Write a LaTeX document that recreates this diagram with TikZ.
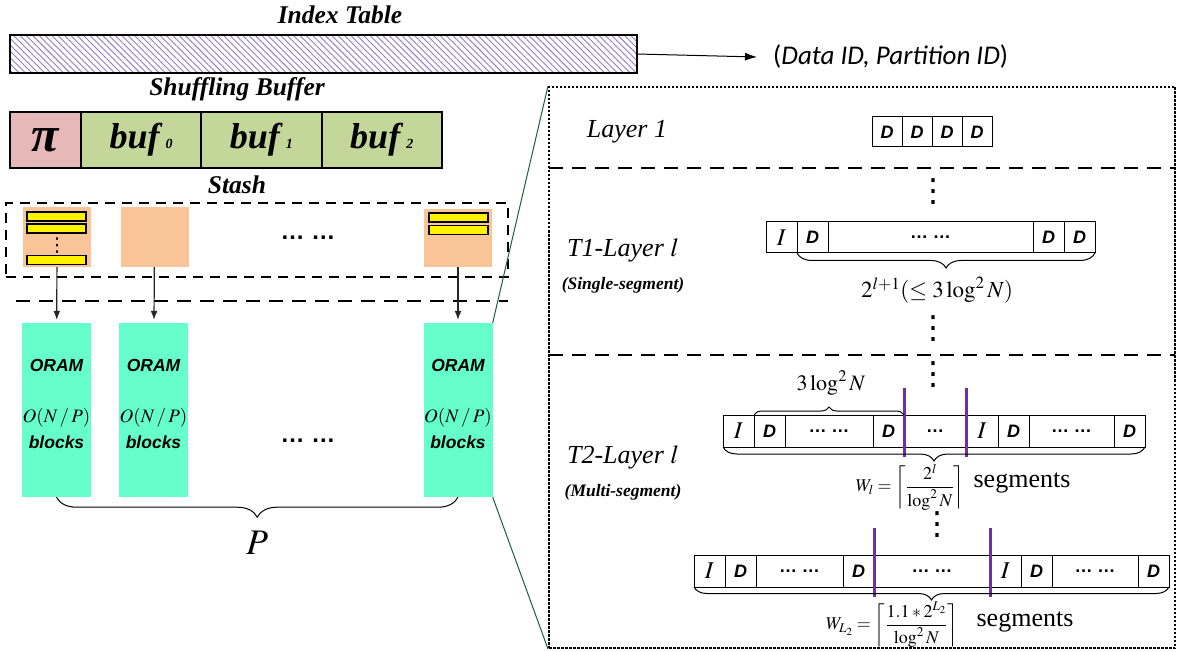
\documentclass[tikz,border=0pt]{standalone}
\usepackage{mathptmx}
\usepackage[no-math]{fontspec}
\setmainfont{Liberation Serif}
\newfontfamily\arialfont{Liberation Sans}
\newfontfamily\calibrifont{Carlito}
\newfontfamily\dotsfont{DejaVu Sans}
\usepackage{tikz}
\usetikzlibrary{shapes,arrows,arrows.meta}
\usetikzlibrary{positioning}
\usetikzlibrary{patterns.meta}
\usetikzlibrary{decorations.pathreplacing}
\newcommand{\fsz}[1]{\fontsize{#1}{#1}\selectfont}
\definecolor{pired}{HTML}{E6B9B8}
\definecolor{bufgreen}{HTML}{C4D79B}
\definecolor{stashorange}{HTML}{F8C498}
\definecolor{oramgreen}{HTML}{66FFCC}
\definecolor{hatch}{HTML}{8E7CC3}
\definecolor{zoomgreen}{HTML}{1E5E3C}
\definecolor{cutpurple}{HTML}{7030A0}
\tikzstyle{tabtitle} = [font=\fsz{25.5}\bfseries\itshape, inner sep=0pt]
\tikzstyle{bufcell} = [rectangle, draw, line width=2pt, fill=bufgreen, 
    minimum width=120.3pt, minimum height=56pt, inner sep=0pt, outer sep=0pt, font=\fsz{36}\bfseries\itshape]
\tikzstyle{stashsq} = [rectangle, fill=stashorange, minimum width=68pt, minimum height=60pt, inner sep=0pt]
\tikzstyle{yellowbar} = [rectangle, draw, line width=1.5pt, fill=yellow, minimum width=59pt, minimum height=9pt, inner sep=0pt]
\tikzstyle{oram} = [rectangle, fill=oramgreen, minimum width=69pt, minimum height=174pt, inner sep=0pt]
\tikzstyle{oramtxt} = [font=\arialfont\fsz{17.5}\bfseries\itshape, inner sep=0pt]
\tikzstyle{cell} = [rectangle, draw, line width=1pt, minimum height=31pt, inner sep=0pt, outer sep=0pt]
\tikzstyle{dcell} = [cell, minimum width=31pt, font=\arialfont\fsz{18}\bfseries\itshape]
\tikzstyle{icell} = [cell, minimum width=31pt, font=\fsz{24}]
\tikzstyle{gapcell} = [cell, font=\arialfont\fsz{18}\bfseries]
\tikzstyle{layername} = [font=\fsz{26}\itshape, inner sep=0pt]
\tikzstyle{segkind} = [font=\fsz{17.5}\bfseries\itshape, inner sep=0pt]
\tikzstyle{sepline} = [draw, line width=2.2pt, dash pattern=on 14pt off 9pt]
\tikzstyle{cutline} = [draw, cutpurple, line width=3pt]
\tikzstyle{vdotsnode} = [font=\dotsfont\fsz{32}, inner sep=0pt]
\tikzstyle{line} = [draw, -{Latex[length=9pt,width=7pt]}, line width=1.2pt, black!85]

\begin{document}
\begin{tikzpicture}[x=1pt,y=-1pt]
    \useasboundingbox (0,0) rectangle (1178,652);
    % Index table
    \node[tabtitle] (ittitle) at (340,15) {Index Table};
    \node[rectangle, draw, line width=2pt, outer sep=0pt, minimum width=627pt, minimum height=38pt,
        pattern={Lines[angle=-45,distance=4.5pt,line width=0.9pt]}, pattern color=hatch] (itab) at (323.5,54) {};
    \node[anchor=west, inner xsep=16pt, inner ysep=0pt, font=\calibrifont\fsz{27}] (pair) at (757,57)
        {(\textit{Data ID, Partition ID})};
    \path [draw, -{Latex[length=12pt,width=8pt]}, line width=1pt] (itab.east) -- (pair.west);
    % Shuffling buffer
    \node[tabtitle] (sbtitle) at (237,89) {Shuffling Buffer};
    \node[bufcell, fill=pired, minimum width=71pt, anchor=west, font=\fsz{50}\bfseries\itshape] (pi) at (10,140) {π};
    \node[bufcell, right=0pt of pi] (buf0) {buf\,{\fsz{14}0}};
    \node[bufcell, right=0pt of buf0] (buf1) {buf\,{\fsz{14}1}};
    \node[bufcell, right=0pt of buf1] (buf2) {buf\,{\fsz{14}2}};
    % Stash
    \node[tabtitle] (sttitle) at (237,185) {Stash};
    \node[rectangle, draw, line width=1.8pt, dash pattern=on 10pt off 7pt, minimum width=502pt, minimum height=74pt] (stash) at (257,240) {};
    \node[stashsq] (sq1) at (57,237) {};
    \node[stashsq] (sq2) at (154.5,237) {};
    \node[stashsq, minimum height=58pt] (sq3) at (458,238) {};
    \node[yellowbar] (y11) at (56.5,216.5) {};
    \node[yellowbar] (y12) at (56.5,228.5) {};
    \node[vdotsnode, font=\dotsfont\fsz{19}] (y1d) at (57,245.5) {⋮};
    \node[yellowbar] (y13) at (56.5,260) {};
    \node[yellowbar] (y31) at (458.5,217.5) {};
    \node[yellowbar] (y32) at (458.5,230) {};
    \node[font=\arialfont\fsz{24}\bfseries] (stdots) at (308,238) {… …};
    \coordinate (s0w) at (16,301);
    \coordinate (s0e) at (508,301);
    \path [sepline] (s0w) -- (s0e);
    % ORAM partitions
    \node[oram] (oram1) at (56.5,410) {};
    \node[oram] (oram2) at (153.5,410) {};
    \node[oram] (oram3) at (458,410) {};
    \node[oramtxt] at (56.5,365) {ORAM};
    \node[oramtxt] at (153.5,365) {ORAM};
    \node[oramtxt] at (458,365) {ORAM};
    \node[font=\fsz{19}, inner sep=0pt] at (56.5,418) {$O(N\,/\,P)$};
    \node[font=\fsz{19}, inner sep=0pt] at (153.5,418) {$O(N\,/\,P)$};
    \node[font=\fsz{19}, inner sep=0pt] at (458,418) {$O(N\,/\,P)$};
    \node[oramtxt] at (56.5,442) {blocks};
    \node[oramtxt] at (153.5,442) {blocks};
    \node[oramtxt] at (458,442) {blocks};
    \node[font=\arialfont\fsz{24}\bfseries] (oramdots) at (308,441) {… …};
    \path [line, shorten >=3pt] (sq1) -- (oram1);
    \path [line, shorten >=3pt] (sq2) -- (oram2);
    \path [line, shorten >=3pt] (sq3) -- (oram3);
    \draw[decorate, decoration={brace, mirror, amplitude=20pt}, line width=1pt] (oram1.south) -- (oram3.south);
    \node[font=\fsz{36}, inner sep=0pt] (pcount) at (257,543) {$P$};
    % Zoomed hierarchy
    \node[rectangle, draw, line width=2pt, dash pattern=on 2.5pt off 1.5pt, minimum width=626pt, minimum height=561pt] (panel) at (862,367.5) {};
    \draw[zoomgreen, line width=1pt] (oram3.north east) -- (panel.north west);
    \draw[zoomgreen, line width=1pt] (oram3.south east) -- (panel.south west);
    \coordinate (s1w) at (549,168);
    \coordinate (s1e) at (1175,168);
    \coordinate (s2w) at (549,355);
    \coordinate (s2e) at (1175,355);
    \path [sepline] (s1w) -- (s1e);
    \path [sepline] (s2w) -- (s2e);
    % Layer 1
    \node[layername] (l1name) at (627,132) {Layer 1};
    \node[dcell, minimum width=30pt, minimum height=30pt, anchor=west] (l1a) at (872,132) {D};
    \node[dcell, minimum width=30pt, minimum height=30pt, right=0pt of l1a] (l1b) {D};
    \node[dcell, minimum width=30pt, minimum height=30pt, right=0pt of l1b] (l1c) {D};
    \node[dcell, minimum width=30pt, minimum height=30pt, right=0pt of l1c] (l1d) {D};
    % T1 layer
    \node[vdotsnode] at (933,192) {⋮};
    \node[layername] (t1name) at (623,250) {T1-Layer $l$};
    \node[segkind] (t1kind) at (623,285) {(Single-segment)};
    \node[icell, anchor=west] (t1i) at (766,237.5) {$I$};
    \node[dcell, right=0pt of t1i] (t1d1) {D};
    \node[gapcell, minimum width=205pt, right=0pt of t1d1] (t1m) {… …};
    \node[dcell, right=0pt of t1m] (t1d2) {D};
    \node[dcell, right=0pt of t1d2] (t1d3) {D};
    \draw[decorate, decoration={brace, mirror, amplitude=15pt}, line width=1pt] (t1d1.south west) -- (t1d3.south east);
    \node[font=\fsz{23}, inner sep=0pt] (t1size) at (937,290) {$2^{l+1}(\le 3\log^{2}N)$};
    \node[vdotsnode] at (933,329) {⋮};
    % T2 layer
    \node[vdotsnode] at (933,375) {⋮};
    \node[layername] (t2name) at (623,457) {T2-Layer $l$};
    \node[segkind] (t2kind) at (623,492) {(Multi-segment)};
    \node[icell, minimum height=32pt, anchor=west] (r1i1) at (723,431) {$I$};
    \node[dcell, minimum height=32pt, right=0pt of r1i1] (r1d1) {D};
    \node[gapcell, minimum height=32pt, minimum width=88pt, right=0pt of r1d1] (r1g1) {… …};
    \node[dcell, minimum height=32pt, right=0pt of r1g1] (r1d2) {D};
    \node[gapcell, minimum height=32pt, minimum width=62pt, right=0pt of r1d2] (r1m) {…};
    \node[icell, minimum height=32pt, minimum width=32pt, right=0pt of r1m] (r1i2) {$I$};
    \node[dcell, minimum height=32pt, right=0pt of r1i2] (r1d3) {D};
    \node[gapcell, minimum height=32pt, minimum width=85pt, right=0pt of r1d3] (r1g2) {… …};
    \node[dcell, minimum height=32pt, right=0pt of r1g2] (r1d4) {D};
    \path [cutline] ([yshift=27pt]r1d2.north east) -- ([yshift=-10pt]r1d2.south east);
    \path [cutline] ([yshift=27pt]r1m.north east) -- ([yshift=-10pt]r1m.south east);
    \draw[decorate, decoration={brace, amplitude=8pt}, line width=1pt] (r1d1.north west) -- (r1d2.north east);
    \node[font=\fsz{22}, inner sep=0pt] (seglen) at (831,383) {$3\log^{2}N$};
    \draw[decorate, decoration={brace, mirror, amplitude=14pt}, line width=1pt] (r1i1.south west) -- (r1d4.south east);
    \node[font=\fsz{18}, inner sep=0pt] (wl) at (910,487) {$W_{l}=\left\lceil\displaystyle\frac{2^{l}}{\log^{2}N}\right\rceil$};
    \node[font=\fsz{26}, inner sep=0pt] (wlseg) at (1022,483) {segments};
    \node[vdotsnode] at (937,525) {⋮};
    \node[icell, minimum height=32pt, anchor=west] (r2i1) at (694,571) {$I$};
    \node[dcell, minimum height=32pt, right=0pt of r2i1] (r2d1) {D};
    \node[gapcell, minimum height=32pt, minimum width=87pt, right=0pt of r2d1] (r2g1) {… …};
    \node[dcell, minimum height=32pt, right=0pt of r2g1] (r2d2) {D};
    \node[gapcell, minimum height=32pt, minimum width=116pt, right=0pt of r2d2] (r2m) {… …};
    \node[icell, minimum height=32pt, right=0pt of r2m] (r2i2) {$I$};
    \node[dcell, minimum height=32pt, right=0pt of r2i2] (r2d3) {D};
    \node[gapcell, minimum height=32pt, minimum width=86pt, right=0pt of r2d3] (r2g2) {… …};
    \node[dcell, minimum height=32pt, right=0pt of r2g2] (r2d4) {D};
    \path [cutline] ([yshift=27pt]r2d2.north east) -- ([yshift=-10pt]r2d2.south east);
    \path [cutline] ([yshift=27pt]r2m.north east) -- ([yshift=-10pt]r2m.south east);
    \draw[decorate, decoration={brace, mirror, amplitude=13pt}, line width=1pt] (r2i1.south west) -- (r2d4.south east);
    \node[font=\fsz{18}, inner sep=0pt] (wL) at (892,625) {$W_{L_2}=\left\lceil\displaystyle\frac{1.1*2^{L_2}}{\log^{2}N}\right\rceil$};
    \node[font=\fsz{26}, inner sep=0pt] (wLseg) at (1025,622) {segments};
\end{tikzpicture}
\end{document}
